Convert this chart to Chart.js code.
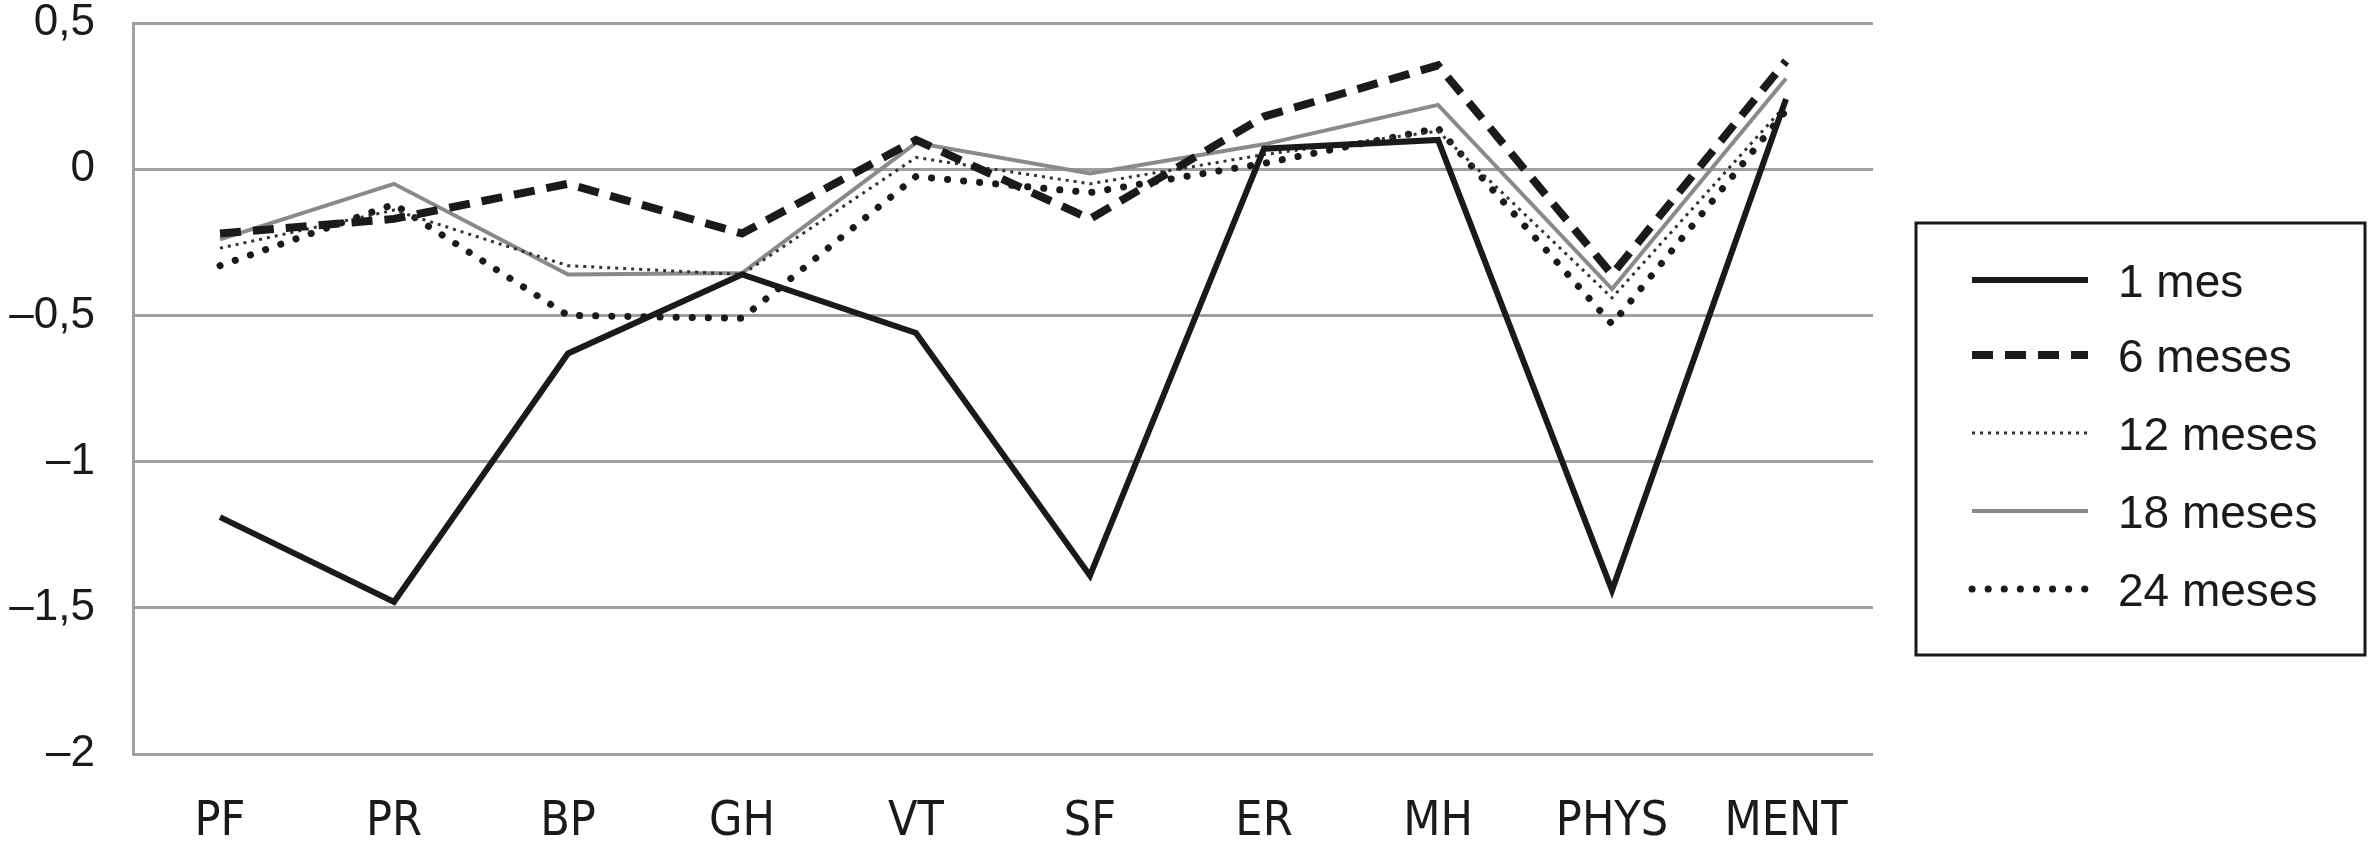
<!DOCTYPE html>
<html>
<head>
<meta charset="utf-8">
<script src="https://cdn.jsdelivr.net/npm/chart.js@4/dist/chart.umd.min.js"></script>
<style>
  html, body { margin:0; padding:0; background:#fff; }
  #wrap { width:2368px; height:861px; position:relative; }
</style>
</head>
<body>
<div id="wrap"><canvas id="c"></canvas></div>
<script>
const categories = ["PF","PR","BP","GH","VT","SF","ER","MH","PHYS","MENT"];
const seriesNames = ["1 mes","6 meses","12 meses","18 meses","24 meses"];

const mes1   = [-1.19,-1.48,-0.63,-0.36,-0.56,-1.39, 0.07, 0.10,-1.44, 0.24];
const meses6 = [-0.22,-0.17,-0.05,-0.22, 0.10,-0.17, 0.18, 0.355,-0.36, 0.37];
const meses12= [-0.27,-0.14,-0.33,-0.36, 0.04,-0.05, 0.05, 0.13,-0.44, 0.22];
const meses18= [-0.24,-0.05,-0.36,-0.355,0.09,-0.015,0.085,0.22,-0.41, 0.31];
const meses24= [-0.33,-0.12,-0.50,-0.51,-0.025,-0.08,0.02, 0.14,-0.53, 0.20];

const yTicks = [0.5, 0, -0.5, -1, -1.5, -2];

const fmt = v => (v < 0 ? "\u2013" : "") + String(Math.abs(v)).replace(".", ",");

const X_FONT = "'DejaVu Sans Condensed','Liberation Sans Narrow','Liberation Sans',Arial,sans-serif";
const Y_FONT = "'Liberation Sans',Arial,sans-serif";
const LEG_FONT = "'Liberation Sans',Arial,sans-serif";

const styles = [
  { borderColor:"#1a1a1a", borderWidth:6, borderDash:[], borderCapStyle:"butt" },
  { borderColor:"#1a1a1a", borderWidth:8, borderDash:[21,12], borderCapStyle:"butt" },
  { borderColor:"#333", borderWidth:3, borderDash:[3,5], borderCapStyle:"butt" },
  { borderColor:"#8a8a8a", borderWidth:4, borderDash:[], borderCapStyle:"butt" },
  { borderColor:"#1a1a1a", borderWidth:7, borderDash:[0.1,16], borderCapStyle:"round" }
];
const values = [mes1, meses6, meses12, meses18, meses24];

// legend box drawn on the canvas, to the right of the plot
const boxLegend = {
  id:"boxLegend",
  afterDraw(chart){
    const ctx = chart.ctx;
    const x0 = 1916, y0 = 223, w = 449, h = 432;
    ctx.save();
    ctx.strokeStyle = "#1a1a1a"; ctx.lineWidth = 3;
    ctx.strokeRect(x0, y0, w, h);
    const rows = [280, 355, 433, 511, 589];
    chart.data.datasets.forEach((ds, i) => {
      const y = rows[i];
      ctx.strokeStyle = ds.borderColor;
      ctx.lineWidth = ds.borderWidth;
      ctx.setLineDash(ds.borderDash);
      ctx.lineCap = ds.borderCapStyle;
      ctx.beginPath(); ctx.moveTo(1972, y); ctx.lineTo(2088, y); ctx.stroke();
      ctx.setLineDash([]);
      ctx.fillStyle = "#1a1a1a";
      ctx.font = "46px " + LEG_FONT;
      ctx.textBaseline = "middle";
      ctx.fillText(ds.label, 2118, y + 4);
    });
    ctx.restore();
  }
};

new Chart(document.getElementById("c"), {
  type:"line",
  data:{
    labels:categories,
    datasets:seriesNames.map((n, i) => Object.assign({
      label:n, data:values[i], fill:false, tension:0, pointRadius:0, pointHoverRadius:0
    }, styles[i]))
  },
  options:{
    responsive:true, maintainAspectRatio:false, animation:false,
    layout:{ padding:{ left:0, right:495, top:23, bottom:0 } },
    plugins:{ legend:{ display:false }, tooltip:{ enabled:false } },
    scales:{
      x:{
        offset:true,
        grid:{ display:false, drawTicks:false },
        border:{ display:false },
        ticks:{ color:"#1a1a1a", font:{ family:X_FONT, size:48 }, padding:40, maxRotation:0, autoSkip:false },
        afterFit(s){ s.height = 861 - 754; s.paddingLeft = 0; s.paddingRight = 0; }
      },
      y:{
        min:-2, max:0.5,
        afterBuildTicks(s){ s.ticks = yTicks.map(v => ({ value:v })); },
        grid:{ color:"#a0a0a0", lineWidth:3, drawTicks:false },
        border:{ display:true, color:"#a0a0a0", width:3 },
        ticks:{ color:"#1a1a1a", font:{ family:Y_FONT, size:44 }, padding:38, callback:v => fmt(v) },
        afterFit(s){ s.width = 133; s.paddingTop = 0; s.paddingBottom = 0; }
      }
    }
  },
  plugins:[boxLegend]
});
</script>
</body>
</html>
